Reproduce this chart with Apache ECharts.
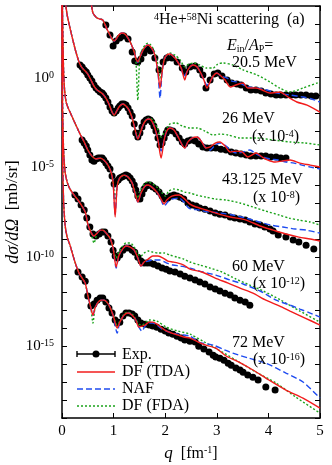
<!DOCTYPE html>
<html><head><meta charset="utf-8">
<script src="https://cdn.jsdelivr.net/npm/echarts@6/dist/echarts.min.js"></script>
<style>html,body{margin:0;padding:0;background:#fff}#c{width:332px;height:465px}</style>
</head><body><div id="c"></div>
<script>
// q [fm^-1] vs log10(dσ/dΩ [mb/sr]) as plotted (already multiplied by the scale factors)
const qTicks = [0, 1, 2, 3, 4, 5];

// ---- 20.5 MeV ----
const exp20 = [[.85,2.94],[.93,2.38],[.99,1.77],[1.05,2.04],[1.12,2.21],[1.20,2.33],[1.28,2.16],[1.36,1.43],[1.41,0.93],[1.47,0.88],[1.53,1.04],[1.59,1.38],[1.65,1.60],[1.72,1.49],[1.80,1.10],[1.88,0.43],[1.96,0.88],[2.03,1.10],[2.13,1.10],[2.23,0.88],[2.33,0.54],[2.40,0.31],[2.48,0.60],[2.58,0.65],[2.67,0.43],[2.73,0.15],[2.79,-0.58],[2.87,-0.13],[2.95,0.20],[3.02,0.26],[3.10,0.09],[3.20,-0.13],[3.29,-0.30],[3.39,-0.36],[3.47,-0.41],[3.57,-0.58],[3.66,-0.69],[3.76,-0.69],[3.86,-0.75],[3.95,-0.86],[4.05,-0.91],[4.15,-0.97],[4.24,-0.97],[4.34,-0.97],[4.44,-0.97],[4.53,-0.97],[4.63,-0.97],[4.73,-0.97],[4.83,-1.03],[4.92,-1.03]];
const low20 = [[.54,4.61],[.56,4.34],[.58,3.89],[.60,3.61],[.64,3.44],[.68,3.33],[.74,3.27],[.79,3.22],[.83,2.99],[.87,2.72],[.93,2.38],[.97,2.16],[1.01,2.04],[1.05,2.16],[1.10,2.38],[1.16,2.49],[1.22,2.44],[1.28,2.21],[1.34,1.88],[1.40,1.43],[1.43,1.10]];
const tda20 = low20.concat([[1.47,0.88],[1.51,1.15],[1.57,1.54],[1.63,1.77],[1.67,1.82],[1.72,1.71],[1.78,1.43],[1.82,0.99],[1.86,0.31],[1.90,-0.58],[1.94,0.31],[1.98,0.99],[2.03,1.26],[2.09,1.32],[2.15,1.21],[2.23,0.93],[2.31,0.54],[2.38,-0.13],[2.42,0.31],[2.48,0.60],[2.54,0.71],[2.62,0.60],[2.69,0.26],[2.75,-0.13],[2.81,-0.58],[2.87,-0.24],[2.93,0.09],[3.00,0.26],[3.08,0.09],[3.16,-0.13],[3.26,-0.52],[3.37,-0.41],[3.51,-0.30],[3.60,-0.58],[3.76,-0.58],[3.88,-0.69],[4.03,-0.86],[4.22,-0.80],[4.38,-1.08],[4.55,-1.36],[4.75,-1.53],[5.00,-1.92]]);
const naf20 = low20.concat([[1.47,0.85],[1.51,1.15],[1.57,1.54],[1.63,1.77],[1.67,1.82],[1.72,1.71],[1.78,1.43],[1.82,0.99],[1.86,0.31],[1.90,-1.14],[1.94,0.31],[1.98,0.99],[2.03,1.26],[2.09,1.32],[2.15,1.21],[2.23,0.93],[2.31,0.54],[2.36,0.09],[2.42,0.31],[2.48,0.60],[2.54,0.71],[2.62,0.60],[2.69,0.26],[2.75,-0.13],[2.81,-0.41],[2.87,-0.24],[2.93,0.09],[3.00,0.26],[3.08,0.09],[3.20,-0.02],[3.29,-0.19],[3.39,-0.24],[3.49,-0.36],[3.59,-0.52],[3.78,-0.58],[3.97,-0.69],[4.17,-0.86],[4.42,-0.97],[4.67,-1.08],[4.84,-1.19],[5.00,-1.36]]);
const fda20 = low20.concat([[1.47,-1.25],[1.51,1.21],[1.57,1.65],[1.63,1.88],[1.67,1.93],[1.72,1.82],[1.78,1.54],[1.84,0.99],[1.90,-0.02],[1.94,0.54],[2.00,1.15],[2.09,1.38],[2.19,1.26],[2.29,0.99],[2.38,0.60],[2.46,0.76],[2.56,0.82],[2.67,0.71],[2.79,0.54],[2.93,0.54],[3.02,0.76],[3.12,0.82],[3.31,0.71],[3.51,0.43],[3.78,0.15],[4.03,-0.24],[4.22,-0.58],[4.42,-0.80],[4.67,-0.58],[5.00,-0.24]]);

// ---- 26 MeV (x 10^-4) ----
const exp26 = [[.35,.71],[.39,.60],[.43,.43],[.47,.31],[.50,.15],[.54,-.02],[.58,-.19],[.62,-.41],[.66,-.58],[.70,-.69],[.74,-.80],[.78,-.86],[.81,-.97],[.85,-1.14],[.89,-1.36],[.93,-1.64],[.97,-1.86],[1.01,-1.98],[1.05,-1.86],[1.09,-1.70],[1.12,-1.58],[1.16,-1.47],[1.20,-1.47],[1.24,-1.53],[1.28,-1.70],[1.32,-1.92],[1.36,-2.14],[1.40,-2.59],[1.43,-3.09],[1.47,-3.31],[1.51,-3.09],[1.55,-2.76],[1.59,-2.48],[1.63,-2.37],[1.67,-2.31],[1.71,-2.37],[1.74,-2.48],[1.78,-2.70],[1.82,-2.98],[1.86,-3.37],[1.90,-3.76],[1.94,-3.65],[1.98,-3.37],[2.02,-3.09],[2.05,-2.92],[2.09,-2.92],[2.15,-2.98],[2.21,-3.15],[2.27,-3.37],[2.33,-3.59],[2.38,-3.71],[2.44,-3.54],[2.50,-3.48],[2.58,-3.54],[2.65,-3.71],[2.73,-3.87],[2.81,-3.93],[2.89,-3.93],[2.98,-3.93],[3.08,-3.99],[3.18,-4.04],[3.28,-4.15],[3.37,-4.21],[3.47,-4.26],[3.57,-4.32],[3.66,-4.38],[3.76,-4.38],[3.86,-4.38],[3.95,-4.38],[4.05,-4.43],[4.15,-4.43],[4.24,-4.49],[4.34,-4.49]];
const low26 = [[.04,4.61],[.06,4.34],[.10,3.50],[.155,2.77],[.21,2.10],[.27,1.43],[.33,0.88],[.39,0.54],[.45,0.37],[.50,0.20],[.56,-0.13],[.62,-0.47],[.68,-0.69],[.74,-0.80],[.79,-0.91],[.85,-1.14],[.91,-1.47],[.97,-1.92],[1.01,-2.09],[1.07,-1.81],[1.12,-1.58],[1.18,-1.47],[1.24,-1.58],[1.30,-1.81],[1.36,-2.25],[1.41,-2.81]];
const tda26 = low26.concat([[1.47,-3.43],[1.51,-3.15],[1.57,-2.65],[1.63,-2.37],[1.69,-2.31],[1.74,-2.42],[1.80,-2.81],[1.86,-3.48],[1.92,-4.49],[1.98,-3.48],[2.03,-2.98],[2.09,-2.81],[2.17,-2.92],[2.25,-3.31],[2.33,-3.76],[2.38,-3.93],[2.44,-3.59],[2.52,-3.37],[2.62,-3.31],[2.71,-3.59],[2.79,-3.93],[2.87,-3.87],[2.97,-3.65],[3.06,-3.59],[3.16,-3.82],[3.26,-4.15],[3.37,-4.10],[3.49,-4.15],[3.60,-4.43],[3.76,-4.21],[3.88,-4.43],[3.99,-4.60],[4.13,-4.71],[4.26,-4.66],[4.42,-4.60],[4.61,-4.77],[4.81,-4.88],[5.00,-4.99]]);
const naf26 = low26.concat([[1.47,-3.43],[1.51,-3.15],[1.57,-2.65],[1.63,-2.37],[1.69,-2.31],[1.74,-2.42],[1.80,-2.81],[1.86,-3.48],[1.92,-4.10],[1.98,-3.48],[2.03,-2.98],[2.09,-2.81],[2.17,-2.92],[2.25,-3.31],[2.33,-3.76],[2.38,-3.93],[2.44,-3.59],[2.52,-3.37],[2.62,-3.31],[2.71,-3.59],[2.79,-3.93],[2.87,-4.04],[2.97,-3.76],[3.06,-3.65],[3.18,-3.82],[3.29,-4.10],[3.39,-4.21],[3.51,-4.15],[3.64,-4.04],[3.76,-4.26],[3.88,-4.43],[4.03,-4.54],[4.19,-4.60],[4.34,-4.71],[4.50,-4.77],[4.65,-4.88],[4.81,-4.99],[5.00,-5.10]]);
const fda26 = low26.concat([[1.47,-3.26],[1.53,-2.92],[1.61,-2.42],[1.69,-2.25],[1.76,-2.37],[1.84,-2.76],[1.92,-3.31],[2.00,-2.98],[2.09,-2.59],[2.21,-2.53],[2.33,-2.70],[2.48,-2.81],[2.62,-2.81],[2.77,-2.98],[2.93,-3.20],[3.06,-3.15],[3.22,-3.20],[3.45,-3.37],[3.78,-3.37],[4.09,-3.48],[4.42,-3.59],[4.71,-3.65],[5.00,-3.76]]);

// ---- 43.125 MeV (x 10^-8) ----
const exp43 = [[.39,-3.48],[.43,-3.65],[.47,-3.82],[.50,-4.04],[.54,-4.32],[.58,-4.60],[.62,-4.66],[.66,-4.54],[.70,-4.49],[.74,-4.49],[.78,-4.49],[.81,-4.60],[.85,-4.77],[.89,-4.93],[.93,-5.10],[.97,-5.49],[1.01,-5.94],[1.05,-5.83],[1.09,-5.72],[1.12,-5.60],[1.16,-5.55],[1.20,-5.49],[1.24,-5.44],[1.28,-5.49],[1.32,-5.60],[1.36,-5.77],[1.40,-5.99],[1.43,-6.27],[1.47,-6.61],[1.51,-6.78],[1.55,-6.50],[1.59,-6.22],[1.63,-6.05],[1.67,-5.99],[1.71,-5.99],[1.76,-6.11],[1.82,-6.22],[1.88,-6.39],[1.94,-6.61],[2.00,-6.78],[2.05,-6.72],[2.11,-6.61],[2.17,-6.55],[2.23,-6.61],[2.29,-6.67],[2.36,-6.78],[2.44,-7.00],[2.52,-7.11],[2.60,-7.17],[2.67,-7.28],[2.77,-7.34],[2.87,-7.45],[2.97,-7.56],[3.06,-7.62],[3.16,-7.67],[3.26,-7.78],[3.35,-7.84],[3.45,-7.89],[3.55,-7.95],[3.64,-8.06],[3.74,-8.17],[3.84,-8.23],[3.93,-8.34],[4.03,-8.45],[4.09,-8.56],[4.19,-8.79],[4.34,-8.90],[4.48,-9.07],[4.59,-9.18],[4.73,-9.35],[4.88,-9.57]];
const tda43 = [[.006,4.61],[.012,3.22],[.02,1.82],[.03,0.43],[.05,-0.69],[.08,-1.36],[.12,-1.70],[.155,-1.92],[.25,-2.53],[.35,-3.15],[.43,-3.59],[.50,-4.04],[.58,-4.38],[.66,-4.54],[.74,-4.49],[.81,-4.60],[.89,-4.88],[.95,-5.27],[.99,-5.83],[1.03,-7.78],[1.07,-6.05],[1.12,-5.60],[1.20,-5.44],[1.28,-5.55],[1.36,-5.88],[1.41,-6.39],[1.47,-6.94],[1.53,-6.44],[1.61,-6.05],[1.67,-5.99],[1.74,-6.11],[1.84,-6.39],[1.92,-6.78],[1.98,-7.06],[2.03,-6.83],[2.13,-6.61],[2.27,-6.55],[2.38,-6.78],[2.48,-7.06],[2.60,-7.22],[2.79,-7.39],[2.98,-7.56],[3.26,-7.78],[3.57,-7.95],[3.84,-8.28],[4.09,-8.51],[4.34,-8.73],[4.59,-8.90],[4.81,-9.01],[5.00,-9.12]];
const naf43 = [[.006,4.61],[.012,3.22],[.02,1.82],[.03,0.43],[.05,-0.69],[.08,-1.36],[.12,-1.70],[.155,-1.92],[.25,-2.53],[.35,-3.15],[.43,-3.59],[.50,-4.04],[.58,-4.38],[.66,-4.54],[.74,-4.49],[.81,-4.60],[.89,-4.88],[.95,-5.27],[.99,-5.83],[1.03,-7.62],[1.07,-6.05],[1.12,-5.60],[1.20,-5.44],[1.28,-5.55],[1.36,-5.88],[1.41,-6.39],[1.47,-6.94],[1.53,-6.44],[1.61,-6.05],[1.67,-5.99],[1.74,-6.11],[1.84,-6.39],[1.92,-6.83],[1.98,-7.17],[2.05,-6.94],[2.13,-6.78],[2.27,-6.72],[2.38,-7.00],[2.46,-7.28],[2.65,-7.39],[2.85,-7.50],[3.08,-7.56],[3.31,-7.67],[3.57,-7.84],[3.82,-8.06],[4.05,-8.23],[4.28,-8.34],[4.52,-8.45],[4.73,-8.51],[5.00,-8.68]];
const fda43 = [[.006,4.61],[.012,3.22],[.02,1.82],[.03,0.43],[.05,-0.69],[.08,-1.36],[.12,-1.70],[.155,-1.92],[.25,-2.53],[.35,-3.15],[.43,-3.59],[.50,-4.04],[.58,-4.38],[.66,-4.54],[.74,-4.49],[.81,-4.60],[.89,-4.88],[.95,-5.27],[.99,-5.83],[1.03,-6.83],[1.07,-6.05],[1.12,-5.60],[1.20,-5.44],[1.28,-5.55],[1.36,-5.88],[1.41,-6.27],[1.47,-6.72],[1.53,-6.27],[1.61,-5.88],[1.67,-5.83],[1.76,-5.94],[1.86,-6.16],[1.94,-6.44],[2.00,-6.61],[2.07,-6.33],[2.17,-6.22],[2.27,-6.27],[2.38,-6.39],[2.48,-6.44],[2.60,-6.55],[2.79,-6.67],[2.98,-6.78],[3.18,-6.83],[3.45,-7.00],[3.70,-7.22],[3.95,-7.45],[4.21,-7.67],[4.40,-7.84],[4.59,-7.95],[4.81,-8.06],[5.00,-8.23]];

// ---- 60 MeV (x 10^-12) ----
const exp60 = [[.25,-6.55],[.31,-6.78],[.37,-7.11],[.43,-7.39],[.48,-7.84],[.54,-8.34],[.60,-8.73],[.66,-8.84],[.72,-8.73],[.78,-8.62],[.83,-8.62],[.89,-8.84],[.95,-9.18],[.99,-9.63],[1.03,-9.96],[1.07,-10.07],[1.12,-9.90],[1.18,-9.63],[1.24,-9.51],[1.30,-9.51],[1.36,-9.63],[1.41,-9.74],[1.47,-10.02],[1.53,-10.24],[1.59,-10.35],[1.65,-10.35],[1.71,-10.35],[1.78,-10.41],[1.86,-10.52],[1.94,-10.63],[2.02,-10.69],[2.09,-10.80],[2.19,-10.85],[2.29,-10.96],[2.38,-11.08],[2.48,-11.19],[2.58,-11.30],[2.67,-11.41],[2.77,-11.52],[2.87,-11.69],[2.97,-11.80],[3.06,-11.91],[3.16,-12.03],[3.26,-12.14],[3.35,-12.30],[3.45,-12.42],[3.55,-12.53],[3.64,-12.70]];
const tda60 = [[.002,4.61],[.01,-1.25],[.03,-4.04],[.06,-5.27],[.10,-5.83],[.155,-6.22],[.25,-6.61],[.35,-7.00],[.45,-7.50],[.50,-8.17],[.56,-8.62],[.62,-8.84],[.68,-8.68],[.74,-8.51],[.79,-8.51],[.87,-8.73],[.93,-8.96],[.99,-9.51],[1.05,-10.57],[1.10,-9.96],[1.16,-9.63],[1.24,-9.40],[1.32,-9.46],[1.40,-9.63],[1.47,-10.07],[1.53,-10.52],[1.59,-10.29],[1.67,-10.13],[1.76,-9.96],[1.86,-9.96],[1.96,-10.07],[2.05,-10.24],[2.15,-10.29],[2.25,-10.35],[2.36,-10.46],[2.48,-10.69],[2.71,-10.85],[2.97,-11.19],[3.22,-11.47],[3.45,-11.75],[3.70,-12.03],[3.95,-12.42],[4.22,-12.75],[4.42,-13.03],[4.71,-13.42],[5.00,-13.81]];
const naf60 = [[.002,4.61],[.01,-1.25],[.03,-4.04],[.06,-5.27],[.10,-5.83],[.155,-6.22],[.25,-6.61],[.35,-7.00],[.45,-7.50],[.50,-8.17],[.56,-8.62],[.62,-8.84],[.68,-8.68],[.74,-8.51],[.79,-8.51],[.87,-8.73],[.93,-8.96],[.99,-9.51],[1.05,-10.63],[1.10,-9.96],[1.16,-9.63],[1.24,-9.40],[1.32,-9.46],[1.40,-9.63],[1.47,-10.07],[1.53,-10.52],[1.59,-10.29],[1.67,-10.24],[1.76,-10.18],[1.90,-10.18],[2.03,-10.35],[2.15,-10.46],[2.29,-10.52],[2.48,-10.63],[2.73,-10.85],[2.98,-11.02],[3.26,-11.30],[3.51,-11.52],[3.84,-11.91],[4.15,-12.42],[4.42,-12.70],[4.61,-12.92],[4.81,-13.14],[5.00,-13.37]];
const fda60 = [[.002,4.61],[.01,-1.25],[.03,-4.04],[.06,-5.27],[.10,-5.83],[.155,-6.22],[.25,-6.61],[.35,-7.00],[.45,-7.50],[.50,-8.17],[.56,-8.62],[.62,-9.23],[.68,-8.68],[.74,-8.51],[.79,-8.51],[.87,-8.73],[.93,-8.96],[.99,-9.51],[1.05,-10.07],[1.10,-9.74],[1.16,-9.46],[1.24,-9.23],[1.32,-9.23],[1.40,-9.46],[1.47,-9.85],[1.53,-9.96],[1.59,-9.79],[1.67,-9.68],[1.76,-9.74],[1.86,-9.79],[1.98,-9.79],[2.09,-9.90],[2.23,-10.02],[2.36,-10.13],[2.48,-10.29],[2.67,-10.46],[2.87,-10.63],[3.10,-10.85],[3.37,-11.24],[3.64,-11.58],[3.90,-11.91],[4.24,-12.42],[4.61,-13.03],[5.00,-13.65]];

// ---- 72 MeV (x 10^-16) ----
const exp72 = [[.31,-10.85],[.39,-11.13],[.45,-11.36],[.50,-12.19],[.56,-12.75],[.62,-12.64],[.68,-12.42],[.74,-12.30],[.79,-12.30],[.85,-12.53],[.91,-12.86],[.97,-13.14],[1.03,-13.53],[1.07,-13.70],[1.12,-13.65],[1.18,-13.31],[1.24,-13.14],[1.30,-13.14],[1.36,-13.20],[1.41,-13.31],[1.47,-13.53],[1.53,-13.70],[1.61,-13.76],[1.69,-13.81],[1.76,-13.87],[1.84,-13.93],[1.92,-14.04],[2.00,-14.15],[2.07,-14.26],[2.15,-14.32],[2.23,-14.43],[2.31,-14.54],[2.38,-14.65],[2.48,-14.71],[2.58,-14.76],[2.65,-14.99],[2.75,-15.15],[2.85,-15.32],[2.93,-15.49],[2.98,-15.60],[3.06,-15.66],[3.14,-15.77],[3.22,-15.94],[3.28,-16.05],[3.37,-16.21],[3.45,-16.32],[3.51,-16.44],[3.60,-16.60],[3.70,-16.72],[3.80,-16.88],[3.95,-17.27],[4.13,-17.44]];
const tda72 = [[.001,4.61],[.01,-4.04],[.03,-6.83],[.06,-8.23],[.10,-8.90],[.155,-9.35],[.21,-9.90],[.27,-10.46],[.33,-10.91],[.39,-11.19],[.45,-11.47],[.50,-12.14],[.56,-12.86],[.60,-13.26],[.64,-12.86],[.70,-12.53],[.76,-12.42],[.81,-12.42],[.87,-12.53],[.93,-12.81],[.99,-13.26],[1.07,-13.98],[1.12,-13.65],[1.20,-13.26],[1.28,-13.14],[1.36,-13.26],[1.43,-13.53],[1.49,-13.93],[1.55,-13.87],[1.61,-13.81],[1.69,-13.65],[1.76,-13.65],[1.84,-13.76],[1.94,-13.98],[2.03,-14.15],[2.13,-14.26],[2.25,-14.37],[2.36,-14.48],[2.48,-14.54],[2.64,-14.76],[2.79,-14.93],[2.98,-15.10],[3.18,-15.54],[3.43,-15.88],[3.70,-16.32],[4.01,-16.88],[4.34,-17.44],[4.67,-17.89],[5.00,-18.45]];
const naf72 = [[.001,4.61],[.01,-4.04],[.03,-6.83],[.06,-8.23],[.10,-8.90],[.155,-9.35],[.21,-9.90],[.27,-10.46],[.33,-10.91],[.39,-11.19],[.45,-11.47],[.50,-12.14],[.56,-12.86],[.60,-13.26],[.64,-12.86],[.70,-12.53],[.76,-12.42],[.81,-12.42],[.87,-12.53],[.93,-12.81],[.99,-13.26],[1.07,-14.26],[1.12,-13.65],[1.20,-13.26],[1.28,-13.14],[1.36,-13.26],[1.43,-13.53],[1.49,-13.93],[1.55,-14.15],[1.61,-13.87],[1.69,-13.70],[1.76,-13.70],[1.84,-13.81],[1.94,-14.04],[2.03,-14.15],[2.13,-14.26],[2.25,-14.32],[2.36,-14.37],[2.48,-14.43],[2.65,-14.76],[2.93,-14.93],[3.16,-15.21],[3.31,-15.38],[3.62,-15.66],[3.95,-15.94],[4.34,-16.49],[4.67,-16.99],[5.00,-17.89]];
const fda72 = [[.001,4.61],[.01,-4.04],[.03,-6.83],[.06,-8.23],[.10,-8.90],[.155,-9.35],[.21,-9.90],[.27,-10.46],[.33,-10.91],[.39,-11.19],[.45,-11.47],[.50,-12.14],[.56,-12.86],[.60,-13.70],[.64,-12.86],[.70,-12.53],[.76,-12.42],[.81,-12.42],[.87,-12.53],[.93,-12.81],[.99,-13.26],[1.07,-13.81],[1.12,-13.59],[1.20,-13.20],[1.28,-13.09],[1.36,-13.20],[1.43,-13.48],[1.49,-13.76],[1.55,-13.81],[1.69,-13.53],[1.84,-13.59],[2.02,-13.93],[2.25,-14.15],[2.48,-14.32],[2.73,-14.71],[3.04,-15.21],[3.37,-15.77],[3.76,-16.44],[4.15,-17.05],[4.53,-17.83],[5.00,-18.73]];

const expSets = [exp20, exp26, exp43, exp60, exp72];
const tdaSets = [tda20, tda26, tda43, tda60, tda72];
const nafSets = [naf20, naf26, naf43, naf60, naf72];
const fdaSets = [fda20, fda26, fda43, fda60, fda72];
const legendNames = ['Exp.', 'DF (TDA)', 'NAF', 'DF (FDA)'];

const FONT = 'Liberation Serif';
const RED = '#f21c1c', BLUE = '#1f4cf0', GREEN = '#1aa31a';

const series = [];
expSets.forEach(d => series.push({type:'scatter', data:d, symbol:'circle', symbolSize:7,
  itemStyle:{color:'#000', opacity:1, borderWidth:0}, silent:true, z:2}));
function lineSeries(d, color, dash){
  return {type:'line', data:d, showSymbol:false, symbol:'none', smooth:0.25, clip:true,
    lineStyle:{color:color, width:1.4, type:dash}, silent:true, z:3};
}
fdaSets.forEach(d => series.push(lineSeries(d, GREEN, [2,2])));
nafSets.forEach(d => series.push(lineSeries(d, BLUE, [6,3])));
tdaSets.forEach(d => series.push(lineSeries(d, RED, 'solid')));

const supR = {fontFamily:FONT, fontSize:10, verticalAlign:'top', color:'#000'};
const subR = {fontFamily:FONT, fontSize:10, verticalAlign:'bottom', color:'#000'};
const baseR = {fontFamily:FONT, fontSize:16, color:'#000'};
const itR = {fontFamily:FONT, fontSize:16, fontStyle:'italic', color:'#000'};

function txt(x, y, text, align){
  return {type:'text', x:x, y:y, silent:true, z:10,
    style:{text:text, fontFamily:FONT, fontSize:16, fill:'#000', align:align||'left', verticalAlign:'middle',
      rich:{s:supR, sub:subR, b:baseR, i:itR}}};
}
function seg(x1,y1,x2,y2,color,dash){
  return {type:'line', shape:{x1:x1,y1:y1,x2:x2,y2:y2}, silent:true, z:10,
    style:{stroke:color, lineWidth:1.4, lineDash:dash||null}};
}

const graphics = [
  txt(154, 20, '{s|4}He+{s|58}Ni scattering  (a)'),
  txt(227, 46, '{i|E}{sub|in}/{i|A}{sub|P}='),
  txt(232, 63, '20.5 MeV'),
  txt(222, 119, '26 MeV'),
  txt(252, 137, '(x 10{s|-4})'),
  txt(222, 180, '43.125 MeV'),
  txt(253, 198, '(x 10{s|-8})'),
  txt(232, 267, '60 MeV'),
  txt(253, 284, '(x 10{s|-12})'),
  txt(232, 343, '72 MeV'),
  txt(253, 360, '(x 10{s|-16})'),
  // legend
  seg(77,354,115,354,'#000'), seg(77,351,77,357,'#000'), seg(115,351,115,357,'#000'),
  {type:'circle', shape:{cx:96, cy:354, r:3.5}, style:{fill:'#000'}, silent:true, z:10},
  seg(77,372,115,372,RED), seg(77,389,115,389,BLUE,[6,3]), seg(77,406,115,406,GREEN,[2,2]),
  txt(122, 355, legendNames[0]), txt(122, 372, legendNames[1]), txt(122, 389, legendNames[2]), txt(122, 406, legendNames[3])
];

const axisCommon = {
  axisLine:{show:true, onZero:false, lineStyle:{color:'#000', width:1.5}},
  axisTick:{show:true, inside:true, length:5, lineStyle:{color:'#000', width:1}},
  splitLine:{show:false}
};

const option = {
  animation:false,
  backgroundColor:'#fff',
  grid:{left:62, right:12, top:6, bottom:47, show:false, containLabel:false, outerBoundsMode:'none'},
  xAxis:[
    Object.assign({type:'value', min:qTicks[0], max:qTicks[qTicks.length-1], interval:1, position:'bottom',
      axisLabel:{color:'#000', fontFamily:FONT, fontSize:15, margin:6},
      name:'{i|q}  [fm{s|-1}]', nameLocation:'middle', nameGap:27, nameMoveOverlap:false,
      nameTextStyle:{color:'#000', fontFamily:FONT, fontSize:16, rich:{i:Object.assign({}, itR, {fontSize:17}), s:supR}}
    }, axisCommon),
    Object.assign({type:'value', min:0, max:5, interval:1, position:'top', axisLabel:{show:false}}, axisCommon)
  ],
  yAxis:[
    Object.assign({type:'value', min:-19, max:4, interval:1, position:'left',
      axisLabel:{margin:8, formatter:v => (Math.round(v) % 5 === 0) ? '{b|10}{s|' + Math.round(v) + '}' : '',
        rich:{b:{fontFamily:FONT, fontSize:15, color:'#000'}, s:supR}},
      name:'{i|dσ/dΩ}  [mb/sr]', nameLocation:'middle', nameGap:40, nameRotate:90, nameMoveOverlap:false,
      nameTextStyle:{color:'#000', fontFamily:FONT, fontSize:17, rich:{i:Object.assign({}, itR, {fontSize:18})}}
    }, axisCommon),
    Object.assign({type:'value', min:-19, max:4, interval:1, position:'right', axisLabel:{show:false}}, axisCommon)
  ],
  series: series,
  graphic: graphics
};

const chart = echarts.init(document.getElementById('c'), null, {renderer:'canvas'});
chart.setOption(option);
</script></body></html>
